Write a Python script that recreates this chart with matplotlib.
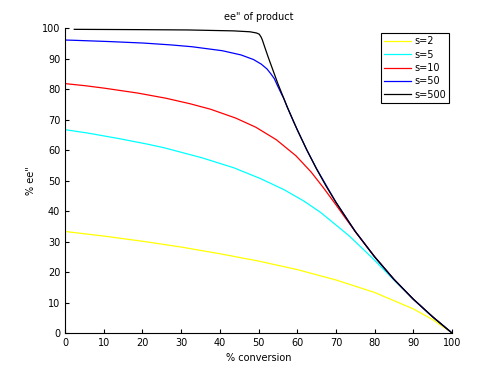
import matplotlib
matplotlib.use("Agg")
import matplotlib.pyplot as plt

# % conversion / % ee", one pair of lists per selectivity
conv_s2 = [0, 10, 20, 30, 40, 50, 60, 70, 80, 90, 95, 100]
ee_s2 = [33.3, 31.8, 30.1, 28.2, 26.0, 23.6, 20.8, 17.4, 13.3, 7.9, 4.4, 0]

conv_s5 = [0, 5.8, 13.8, 21.1, 25.5, 35.3, 43.6, 50.6, 56.6, 61.7, 66.1, 73.4, 79.5, 84.9, 90.0, 95.0, 100]
ee_s5 = [66.7, 65.6, 63.8, 62.0, 60.8, 57.5, 54.2, 50.6, 47.0, 43.3, 39.5, 31.9, 24.5, 17.5, 11.1, 5.3, 0]

conv_s10 = [0, 5.3, 10.2, 18.8, 26.1, 32.3, 37.6, 44.1, 49.3, 54.6, 59.7, 63.6, 66.8, 69.7, 72.4,
            75.0, 80.0, 85.0, 90.0, 95.0, 100]
ee_s10 = [81.8, 81.1, 80.3, 78.7, 77.0, 75.2, 73.4, 70.5, 67.5, 63.4, 58.1, 52.8, 47.6, 42.6, 37.8,
          33.3, 25.0, 17.6, 11.1, 5.3, 0]

conv_s50 = [0, 2.5, 11.3, 20.3, 27.3, 32.8, 40.6, 45.5, 48.7, 50.7, 52.2, 53.2, 54.1, 54.7, 55.9,
            56.5, 57.5, 59.0, 60, 62.5, 65, 70, 75, 80, 85, 90, 95, 100]
ee_s50 = [96.1, 96.0, 95.6, 95.1, 94.5, 93.9, 92.6, 91.2, 89.7, 88.2, 86.6, 85.0, 83.4, 81.7, 78.5,
          77.0, 73.9, 69.5, 66.7, 60.0, 53.9, 42.9, 33.3, 25.0, 17.6, 11.1, 5.3, 0]

conv_s500 = [2.4, 19.7, 31.7, 43.5, 47.8, 49.5, 50.2, 50.7, 51.0, 51.5, 52.5, 55, 57.5, 60, 62.5,
             65, 67.5, 70, 75, 80, 85, 90, 95, 100]
ee_s500 = [99.6, 99.5, 99.4, 99.1, 98.8, 98.4, 98.0, 97.0, 96.1, 94.2, 90.5, 81.8, 73.9, 66.7, 60.0,
           53.8, 48.1, 42.9, 33.3, 25.0, 17.6, 11.1, 5.3, 0]

labels = ["s=2", "s=5", "s=10", "s=50", "s=500"]
colors = ["#ffff00", "#00ffff", "#ff0000", "#0000ff", "#000000"]

plt.rcParams["font.family"] = ["DejaVu Sans"]
plt.rcParams["font.size"] = 7

fig = plt.figure(figsize=(5, 3.75), dpi=100)
ax = fig.add_axes([0.13, 0.112, 0.774, 0.813])

series = [(conv_s2, ee_s2), (conv_s5, ee_s5), (conv_s10, ee_s10),
          (conv_s50, ee_s50), (conv_s500, ee_s500)]
for (x, y), lab, col in zip(series, labels, colors):
    ax.plot(x, y, color=col, lw=0.9, label=lab)

ax.set_xlim(0, 100)
ax.set_ylim(0, 100)
ax.set_xticks(range(0, 101, 10))
ax.set_yticks(range(0, 101, 10))
ax.tick_params(direction="in", length=3, width=0.8, labelsize=7)
ax.spines["top"].set_visible(False)
ax.spines["right"].set_visible(False)

ax.set_title('ee" of product', fontsize=7, pad=6)
ax.set_xlabel("% conversion", fontsize=7)
ax.set_ylabel('% ee"', fontsize=7)

leg = ax.legend(loc="upper right", bbox_to_anchor=(0.993, 0.985), borderaxespad=0,
                fancybox=False, edgecolor="black", handlelength=2.8, fontsize=7,
                labelspacing=0.35, handletextpad=0.3, borderpad=0.35, framealpha=1)
leg.get_frame().set_linewidth(0.8)

fig.savefig("out.png", dpi=100)
